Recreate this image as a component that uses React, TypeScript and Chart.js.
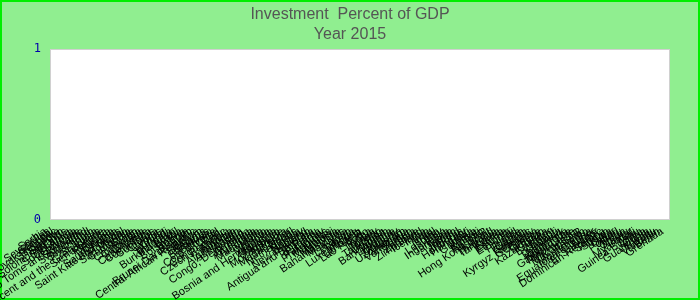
import React, { useEffect, useRef } from 'react';
import { Chart, registerables } from 'chart.js';

Chart.register(...registerables);

const countries: string[] = [
  'Serbia', 'Seychelles', 'Senegal', 'Slovak Republic', 'Singapore', 'Sweden', 'Solomon Islands', 'Sri Lanka', 'South Africa', 'Slovenia',
  'Sao Tome and Principe', 'Suriname', 'Switzerland', 'Swaziland', 'Spain', 'St. Lucia', 'Saint Vincent and the Grenadines', 'Sierra Leone', 'Rwanda', 'Russia',
  'Romania', 'Saudi Arabia', 'Saint Kitts and Nevis', 'Portugal', 'San Marino', 'Cambodia', 'Chile', 'Cameroon', 'Colombia', 'Canada',
  'Cabo Verde', 'Costa Rica', 'Comoros', 'Croatia', 'Cyprus', 'China', 'Burundi', 'Bulgaria', 'Burkina Faso', 'Brazil',
  'Botswana', 'Bolivia', 'Bhutan', 'Brunei Darussalam', 'Central African Republic', 'Belize', 'Belgium', 'Belarus', 'Barbados', 'Bahrain',
  "Cote d'Ivoire", 'Chad', 'Congo, Rep.', 'Czech Republic', 'Angola', 'Albania', 'Afghanistan', 'Azerbaijan', 'Austria', 'Congo, Dem. Rep.',
  'Armenia', 'Argentina', 'Australia', 'Mauritania', 'Malta', 'Mexico', 'Moldova', 'Bosnia and Herzegovina', 'Mongolia', 'Morocco',
  'Mozambique', 'Namibia', 'Madagascar', 'Nepal', 'Netherlands', 'Nigeria', 'Norway', 'New Zealand', 'Pakistan', 'Antigua and Barbuda',
  'Palau', 'Panama', 'Paraguay', 'Philippines', 'Mauritius', 'Malawi', 'Malaysia', 'Bahamas, The', 'Maldives', 'Latvia',
  'Lebanon', 'Liberia', 'Luxembourg', 'Lithuania', 'Lao P.D.R.', 'Togo', 'Tonga', 'Tunisia', 'Turkey', 'Tajikistan',
  'Uganda', 'Bangladesh', 'Algeria', 'Ukraine', 'Uruguay', 'Uzbekistan', 'Vietnam', 'Venezuela', 'Yemen', 'Zambia',
  'Zimbabwe', 'Iceland', 'India', 'Iran', 'Iraq', 'Israel', 'Lesotho', 'Italy', 'Indonesia', 'Jamaica',
  'Japan', 'Jordan', 'Ireland', 'Honduras', 'Hungary', 'Haiti', 'Guyana', 'Kenya', 'Kiribati', 'Kosovo',
  'Hong Kong SAR', 'Kuwait', 'Thailand', 'Tanzania', 'Korea', 'Eritrea', 'Estonia', 'Ethiopia', 'Fiji', 'Finland',
  'France', 'Gabon', 'Georgia', 'Kyrgyz Republic', 'Germany', 'Ghana', 'Greece', 'Kazakhstan', 'Guinea', 'Ecuador',
  'Egypt', 'Djibouti', 'Dominica', 'Denmark', 'Nicaragua', 'Gambia, The', 'Timor-Leste', 'Micronesia', 'Macao SAR', 'Taiwan',
  'Montenegro', 'Equatorial Guinea', 'Niger', 'El Salvador', 'Dominican Republic', 'Samoa', 'Sudan', 'Syria', 'Qatar', 'Poland',
  'Peru', 'Oman', 'Nauru', 'Myanmar', 'Mali', 'Guinea-Bissau', 'Libya', 'Cuba', 'Guatemala', 'Tuvalu',
  'Vanuatu', 'Benin', 'Grenada',
];

// No values are drawn in the reference for 2015: the series is empty.
const investmentPct: number[] = [];

const yMin = 0;
const yMax = 1;
const yStep = 1;

const titleLines: string[] = ['Investment  Percent of GDP', 'Year 2015'];

const backgroundPlugin = {
  id: 'backgroundPlugin',
  beforeDraw(chart: any) {
    const { ctx, width, height, chartArea } = chart;
    ctx.save();
    ctx.fillStyle = '#90ee90';
    ctx.fillRect(0, 0, width, height);
    ctx.strokeStyle = '#00ee00';
    ctx.lineWidth = 2;
    ctx.strokeRect(1, 1, width - 2, height - 2);
    const { left, top, right, bottom } = chartArea;
    ctx.fillStyle = '#ffffff';
    ctx.fillRect(left, top, right - left, bottom - top);
    ctx.strokeStyle = '#d0d0d0';
    ctx.lineWidth = 1;
    ctx.strokeRect(left + 0.5, top + 0.5, right - left - 1, bottom - top - 1);
    ctx.restore();
  },
};

export default function App() {
  const canvasRef = useRef<HTMLCanvasElement | null>(null);

  useEffect(() => {
    document.body.style.margin = '0';
    const canvas = canvasRef.current;
    if (!canvas) return;
    const chart = new Chart(canvas, {
      type: 'bar',
      data: {
        labels: countries,
        datasets: [
          {
            label: 'Investment Percent of GDP',
            data: investmentPct,
            backgroundColor: '#4a7ebb',
          },
        ],
      },
      options: {
        responsive: false,
        animation: false,
        devicePixelRatio: 1,
        layout: { padding: { left: 20, right: 20, top: 2, bottom: 0 } },
        plugins: {
          legend: { display: false },
          tooltip: { enabled: false },
          title: {
            display: true,
            text: titleLines,
            color: '#555555',
            font: { family: 'Liberation Sans, Arial', size: 16, weight: 'normal', lineHeight: 1.25 },
            padding: { top: 3, bottom: 4 },
          },
        },
        scales: {
          x: {
            type: 'category',
            grid: { display: false, drawTicks: true, tickLength: 5 },
            border: { display: false },
            ticks: {
              autoSkip: false,
              maxRotation: 34,
              minRotation: 34,
              padding: 0,
              labelOffset: -6,
              color: '#000000',
              font: { family: 'Liberation Sans, Arial', size: 11 },
            },
            afterFit(scale: any) {
              scale.height = 80;
            },
          },
          y: {
            min: yMin,
            max: yMax,
            grid: { display: false },
            border: { display: false },
            ticks: {
              stepSize: yStep,
              color: '#0000aa',
              padding: 1,
              font: { family: 'DejaVu Sans Mono, monospace', size: 12 },
            },
            afterFit(scale: any) {
              scale.width = 30;
            },
          },
          yRight: {
            type: 'linear',
            position: 'right',
            display: true,
            grid: { display: false, drawTicks: false },
            border: { display: false },
            ticks: { display: false },
            afterFit(scale: any) {
              scale.width = 10;
            },
          },
        },
      },
      plugins: [backgroundPlugin],
    });
    return () => chart.destroy();
  }, []);

  return (
    <div style={{ width: 700, height: 300 }}>
      <canvas ref={canvasRef} width={700} height={300} style={{ display: 'block', width: 700, height: 300 }} />
    </div>
  );
}
